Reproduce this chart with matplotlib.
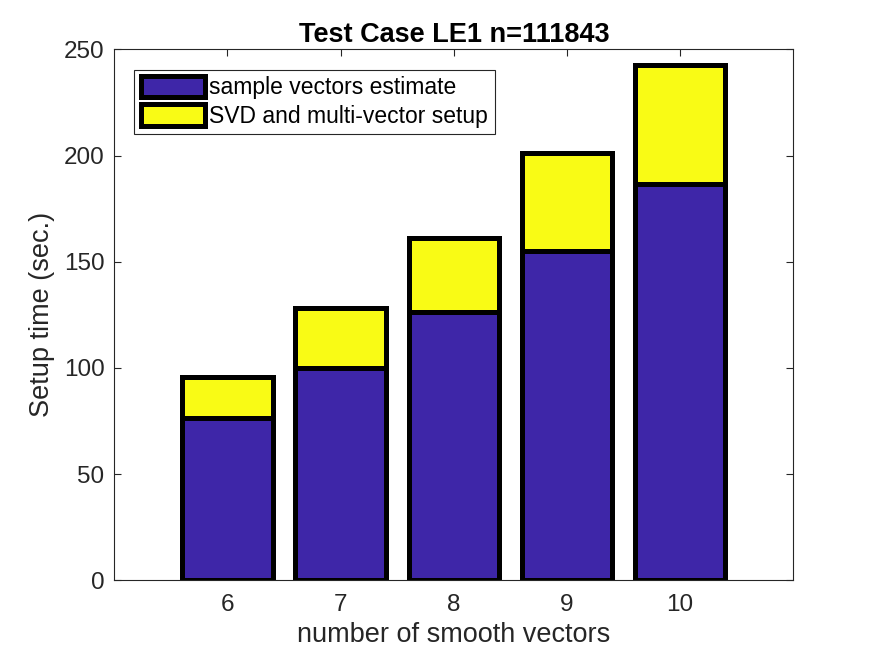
import numpy as np
import matplotlib
matplotlib.use('Agg')
import matplotlib.pyplot as plt

plt.rcParams['font.family'] = ['Liberation Sans', 'DejaVu Sans']

# data
n_vectors = [6, 7, 8, 9, 10]
sample_est = [76.3, 99.9, 126.3, 155.0, 186.5]
svd_setup = [19.2, 28.1, 35.1, 46.4, 55.9]

blue = '#3E26A8'
yellow = '#F9FB15'
grey = '#262626'

fig = plt.figure(figsize=(8.75, 6.56), dpi=100)
ax = fig.add_axes([0.1306, 0.1154, 0.7761, 0.8094])

ax.bar(n_vectors, sample_est, width=0.8, color=blue, edgecolor='black',
       linewidth=3.6, label='sample vectors estimate', zorder=2)
ax.bar(n_vectors, svd_setup, width=0.8, bottom=sample_est, color=yellow,
       edgecolor='black', linewidth=3.6, label='SVD and multi-vector setup', zorder=2)

ax.set_xlim(5, 11)
ax.set_ylim(0, 250)
ax.set_xticks(n_vectors)
ax.set_yticks(np.arange(0, 251, 50))

ax.tick_params(direction='in', top=True, right=True, length=5, width=0.8,
               colors=grey, labelsize=17.5)
ax.tick_params(axis='x', pad=10)
ax.tick_params(axis='y', pad=7)
for s in ax.spines.values():
    s.set_color(grey)
    s.set_linewidth(0.8)

ax.set_xlabel('number of smooth vectors', fontsize=19.5, color=grey, labelpad=4)
ax.set_ylabel('Setup time (sec.)', fontsize=19.5, color=grey, labelpad=6)
ax.set_title('Test Case LE1 n=111843', fontsize=19.5, fontweight='bold', pad=5)

leg = ax.legend(loc='upper left', bbox_to_anchor=(0.0295, 0.962), borderaxespad=0,
                fontsize=16.5, fancybox=False, framealpha=1, edgecolor=grey,
                handlelength=2.8, handleheight=1.05, handletextpad=0.2,
                labelspacing=0.22, borderpad=0.28)
leg.get_frame().set_linewidth(0.8)

fig.savefig('out.png', dpi=100)
